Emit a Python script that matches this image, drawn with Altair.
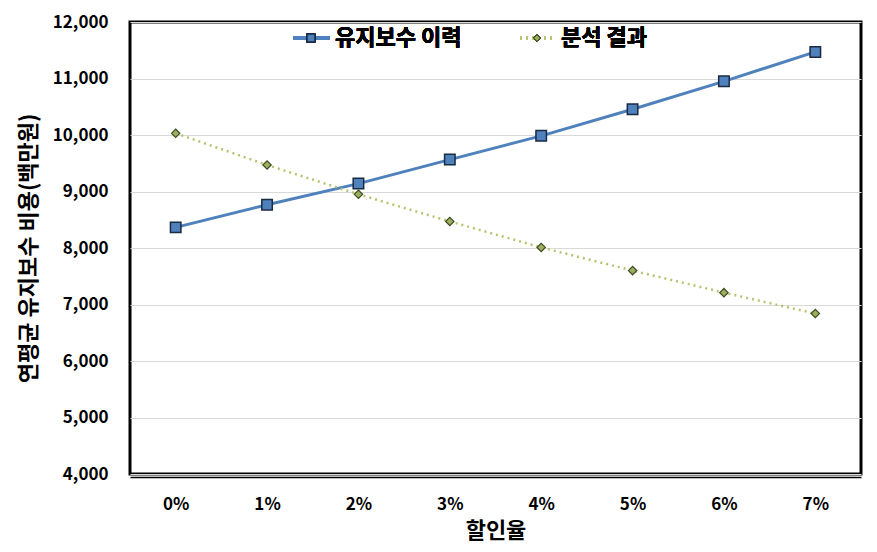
import altair as alt
import pandas as pd

rates = ["0%", "1%", "2%", "3%", "4%", "5%", "6%", "7%"]
history = [8365, 8765, 9140, 9565, 9985, 10455, 10950, 11470]
analysis = [10030, 9470, 8950, 8470, 8010, 7600, 7210, 6840]
series = ["유지보수 이력", "분석 결과"]
y_title = "연평균 유지보수 비용(백만원)"
x_title = "할인율"

FONT = "Noto Sans CJK KR"
BLUE = "#4F81BD"
GREEN_LINE = "#B4C46E"
GREEN_FILL = "#9BAF5F"

df = pd.DataFrame({
    "rate": rates * 2,
    "value": history + analysis,
    "series": [series[0]] * len(rates) + [series[1]] * len(rates),
})

x = alt.X("rate:N", sort=rates, scale=alt.Scale(type="point", padding=0.5),
          axis=alt.Axis(title=x_title, labelAngle=0, ticks=False, domain=True,
                        domainColor="#000", domainWidth=1.5, offset=3,
                        labelPadding=19, titlePadding=8, grid=False,
                        labelFont=FONT, labelFontSize=17, labelFontWeight="bold", labelColor="#000",
                        titleFont=FONT, titleFontSize=22, titleFontWeight="bold", titleColor="#000"))
y = alt.Y("value:Q", scale=alt.Scale(domain=[4000, 12000], nice=False, zero=False),
          axis=alt.Axis(title=y_title, values=list(range(4000, 12001, 1000)), format=",.0f",
                        ticks=False, domain=False, labelPadding=22, titlePadding=12,
                        gridColor="#D9D9D9", gridWidth=1,
                        labelFont=FONT, labelFontSize=17, labelFontWeight="bold", labelColor="#000",
                        titleFont=FONT, titleFontSize=22, titleFontWeight="bold", titleColor="#000"))

hist_df = df[df.series == series[0]]
ana_df = df[df.series == series[1]]

blue_line = alt.Chart(hist_df).mark_line(color=BLUE, strokeWidth=3).encode(x=x, y=y)
blue_pts = alt.Chart(hist_df).mark_point(shape="square", filled=True, size=110, fill=BLUE,
                                         stroke="#1B2A44", strokeWidth=1.5, opacity=1).encode(x=x, y=y)
green_line = alt.Chart(ana_df).mark_line(color=GREEN_LINE, strokeWidth=2.5, strokeDash=[2, 4]).encode(x=x, y=y)
green_pts = alt.Chart(ana_df).mark_point(shape="diamond", filled=True, size=70, fill=GREEN_FILL,
                                         stroke="#3B4A1E", strokeWidth=1.2, opacity=1).encode(x=x, y=y)

# custom legend
LY = 16
leg_blue_line = alt.Chart(hist_df).mark_rule(color=BLUE, strokeWidth=3).encode(
    x=alt.value(163), x2=alt.value(200), y=alt.value(LY))
leg_blue_pt = alt.Chart(hist_df).mark_point(shape="square", filled=True, size=60, fill=BLUE,
                                            stroke="#1B2A44", strokeWidth=1.2, opacity=1).encode(
    x=alt.value(181), y=alt.value(LY))
leg_blue_txt = alt.Chart(hist_df).mark_text(align="left", baseline="middle", font=FONT, fontSize=22,
                                            fontWeight="bold", color="#000").encode(
    x=alt.value(205), y=alt.value(LY), text=alt.value(series[0]))
leg_green_line = alt.Chart(ana_df).mark_rule(color=GREEN_LINE, strokeWidth=2.5, strokeDash=[2, 4]).encode(
    x=alt.value(390), x2=alt.value(425), y=alt.value(LY))
leg_green_pt = alt.Chart(ana_df).mark_point(shape="diamond", filled=True, size=45, fill=GREEN_FILL,
                                            stroke="#3B4A1E", strokeWidth=1, opacity=1).encode(
    x=alt.value(407), y=alt.value(LY))
leg_green_txt = alt.Chart(ana_df).mark_text(align="left", baseline="middle", font=FONT, fontSize=22,
                                            fontWeight="bold", color="#000").encode(
    x=alt.value(431), y=alt.value(LY), text=alt.value(series[1]))

chart = alt.layer(
    blue_line, green_line, blue_pts, green_pts,
    leg_blue_line, leg_blue_pt, leg_blue_txt, leg_green_line, leg_green_pt, leg_green_txt,
).properties(
    width=731, height=452,
    autosize=alt.AutoSizeParams(type="none"),
    padding={"left": 122, "top": 14, "right": 8, "bottom": 70},
    background="white",
).configure_view(
    stroke="#000", strokeWidth=3
)

chart.save("out.html", embed_options={"renderer": "svg", "actions": False})
